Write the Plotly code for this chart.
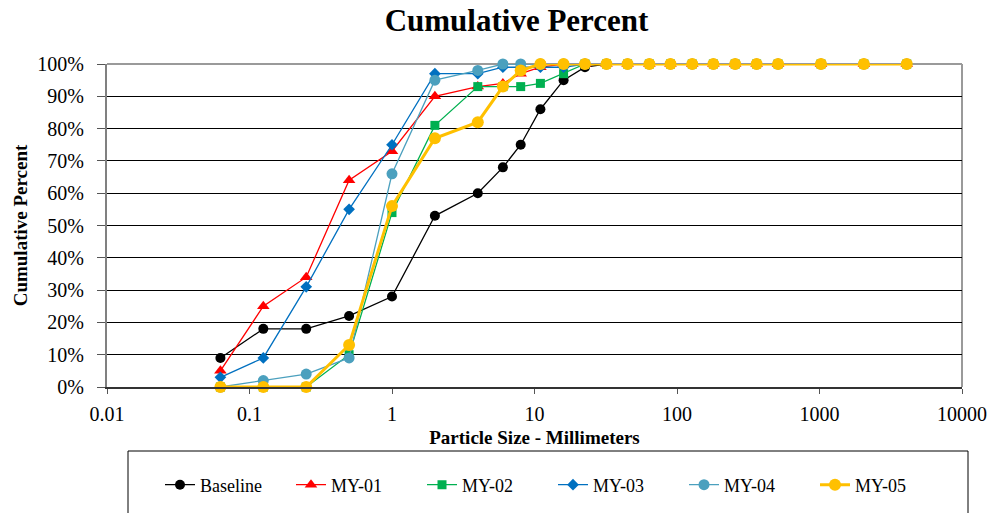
import plotly.graph_objects as go

sizes_mm = [0.0625, 0.125, 0.25, 0.5, 1, 2, 4, 6, 8, 11, 16, 22.6, 32, 45, 64, 90,
            128, 180, 256, 362, 512, 1024, 2048, 4096]
baseline = [9, 18, 18, 22, 28, 53, 60, 68, 75, 86, 95, 99] + [100] * 12
my01 = [5, 25, 34, 64, 73, 90, 93, 94, 97, 99, 100, 100] + [100] * 12
my02 = [0, 0, 0, 10, 54, 81, 93, 93, 93, 94, 97, 100] + [100] * 12
my03 = [3, 9, 31, 55, 75, 97, 97, 99, 99, 99, 99, 100] + [100] * 12
my04 = [0, 2, 4, 9, 66, 95, 98, 100, 100, 100, 100, 100] + [100] * 12
my05 = [0, 0, 0, 13, 56, 77, 82, 93, 98, 100, 100, 100] + [100] * 12

x_tick_vals = [0.01, 0.1, 1, 10, 100, 1000, 10000]
x_tick_text = ["0.01", "0.1", "1", "10", "100", "1000", "10000"]
y_tick_vals = list(range(0, 101, 10))
y_tick_text = [f"{v}%" for v in y_tick_vals]

series = [
    ("Baseline", baseline, "#000000", "circle", 10, 1.3),
    ("MY-01", my01, "#FF0000", "triangle-up", 11, 1.3),
    ("MY-02", my02, "#00B050", "square", 9, 1.3),
    ("MY-03", my03, "#0070C0", "diamond", 9, 1.3),
    ("MY-04", my04, "#4BA0BE", "circle", 11, 1.3),
    ("MY-05", my05, "#FFC000", "circle", 12, 3),
]

SERIF = "Liberation Serif"

fig = go.Figure()
for name, vals, color, sym, msize, lw in series:
    fig.add_trace(go.Scatter(
        x=sizes_mm, y=vals, name=name, mode="lines+markers",
        line=dict(color=color, width=lw),
        marker=dict(symbol=sym, size=msize, color=color),
        cliponaxis=False,
    ))

L, R, T, B = 107, 41, 64, 126
W, H = 1003, 513
pw, ph = W - L - R, H - T - B

def px2x(px):
    return (px - L) / pw

def py2y(py):
    return (H - B - py) / ph

fig.update_layout(
    width=W, height=H,
    margin=dict(l=L, r=R, t=T, b=B, autoexpand=False),
    paper_bgcolor="white", plot_bgcolor="white",
    font=dict(family=SERIF, color="black", size=20),
    title=dict(text="<b>Cumulative Percent</b>", x=0.515, xanchor="center",
               y=0.96, yanchor="middle", font=dict(family=SERIF, size=31)),
    showlegend=True,
    legend=dict(orientation="h", x=px2x(160), xanchor="left",
                y=py2y(485), yanchor="middle",
                font=dict(family=SERIF, size=18, color="black"),
                entrywidth=86, entrywidthmode="pixels",
                bgcolor="rgba(0,0,0,0)", borderwidth=0),
    xaxis=dict(type="log", range=[-2, 4], tickvals=x_tick_vals, ticktext=x_tick_text,
               showgrid=False, zeroline=False, ticks="outside", ticklen=5,
               tickcolor="#555555", showline=True, linecolor="#333333", linewidth=1.5,
               mirror=False, automargin=False, ticklabelstandoff=3,
               tickfont=dict(family=SERIF, size=20, color="black"),
               title=dict(text="<b>Particle Size - Millimeters</b>", standoff=7,
                          font=dict(family=SERIF, size=19, color="black"))),
    yaxis=dict(range=[0, 100], tickvals=y_tick_vals, ticktext=y_tick_text,
               showgrid=True, gridcolor="#000000", gridwidth=1, zeroline=False,
               ticks="outside", ticklen=8, tickcolor="#555555",
               showline=True, linecolor="#808080", linewidth=2, mirror=False,
               automargin=False, ticklabelstandoff=9,
               tickfont=dict(family=SERIF, size=20, color="black"),
               title=dict(text="<b>Cumulative Percent</b>", standoff=5,
                          font=dict(family=SERIF, size=19, color="black"))),
    shapes=[
        dict(type="line", xref="paper", yref="paper", x0=0, x1=1, y0=1, y1=1,
             line=dict(color="#9a9a9a", width=2), layer="below"),
        dict(type="line", xref="paper", yref="paper", x0=1, x1=1, y0=0, y1=1,
             line=dict(color="#9a9a9a", width=2), layer="below"),
        dict(type="rect", xref="paper", yref="paper",
             x0=px2x(128), x1=px2x(968), y0=py2y(451), y1=py2y(530),
             line=dict(color="black", width=1), fillcolor="rgba(0,0,0,0)"),
    ],
)

fig.write_html("out.html", config={"displayModeBar": False},
               post_script="document.body.style.margin='0';")
